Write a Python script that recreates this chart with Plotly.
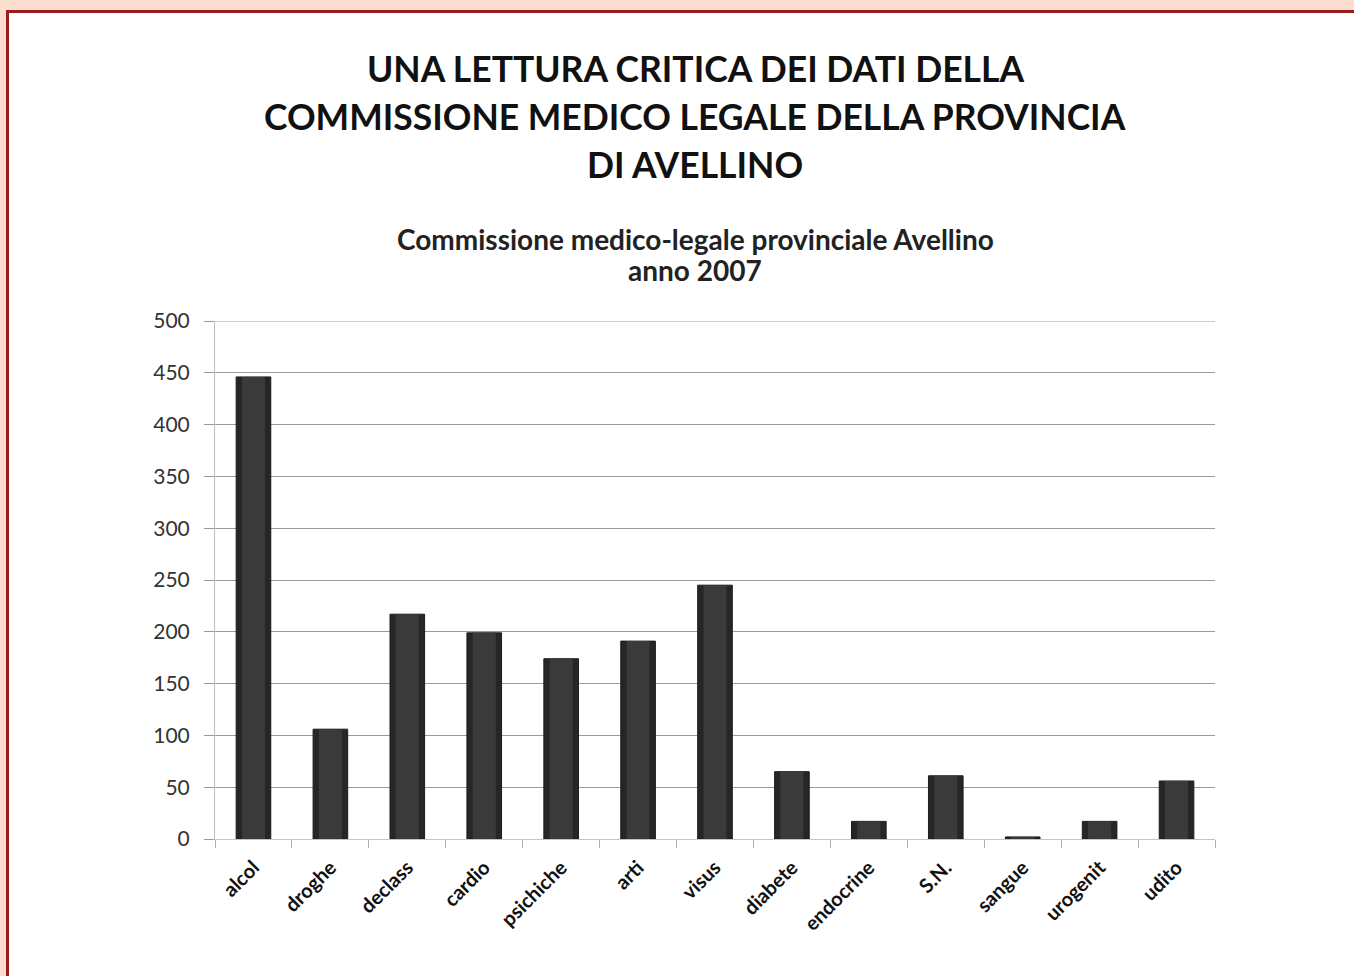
import plotly.graph_objects as go

# Commissione medico-legale provinciale Avellino, anno 2007
categorie = ["alcol", "droghe", "declass", "cardio", "psichiche", "arti", "visus",
             "diabete", "endocrine", "S.N.", "sangue", "urogenit", "udito"]
casi = [446, 106, 217, 199, 174, 191, 245, 65, 17, 61, 2, 17, 56]

y_ticks = [0, 50, 100, 150, 200, 250, 300, 350, 400, 450, 500]

titolo = ["UNA LETTURA CRITICA DEI DATI DELLA",
          "COMMISSIONE MEDICO LEGALE DELLA PROVINCIA",
          "DI AVELLINO"]
sottotitolo = ["Commissione medico-legale provinciale Avellino", "anno 2007"]

W, H = 1354, 976
L, R, T, B = 215, 139, 321, 137
PW, PH = W - L - R, H - T - B


def px(x):
    return (x - L) / PW


def py(y):
    return (H - B - y) / PH


FONT = "Lato"
GRID = "#9a9a9a"

fig = go.Figure()
# dark outer body of each column
fig.add_trace(go.Bar(
    x=categorie, y=casi, width=0.45,
    marker=dict(color="#262626", line=dict(color="#1c1c1c", width=1)),
    hoverinfo="x+y", showlegend=False,
))
# lighter inner face for a rounded look
fig.add_trace(go.Bar(
    x=categorie, y=casi, width=0.30,
    marker=dict(color="#3a3a3a", line=dict(width=0)),
    hoverinfo="skip", showlegend=False,
))

annotations = []
for i, line in enumerate(titolo):
    annotations.append(dict(
        text=f"<b>{line}</b>", xref="paper", yref="paper",
        x=px(695), y=py(68 + i * 48.5), xanchor="center", yanchor="middle",
        showarrow=False, font=dict(family=FONT, size=35.5, color="#111111"),
    ))
for i, line in enumerate(sottotitolo):
    annotations.append(dict(
        text=f"<b>{line}</b>", xref="paper", yref="paper",
        x=px(695), y=py(239 + i * 31), xanchor="center", yanchor="middle",
        showarrow=False, font=dict(family=FONT, size=28, color="#222222"),
    ))

shapes = [
    # pink page band along the top and the left
    dict(type="rect", xref="paper", yref="paper", x0=px(-5), x1=px(W + 5),
         y0=py(11), y1=py(-5), fillcolor="#FDDDD0", line=dict(width=0), layer="below"),
    dict(type="rect", xref="paper", yref="paper", x0=px(-5), x1=px(7),
         y0=py(H + 5), y1=py(-5), fillcolor="#FDDDD0", line=dict(width=0), layer="below"),
    # dark red frame lines
    dict(type="line", xref="paper", yref="paper", x0=px(7), x1=px(W + 5),
         y0=py(11.5), y1=py(11.5), line=dict(color="#9B1C1C", width=3), layer="below"),
    dict(type="line", xref="paper", yref="paper", x0=px(7.5), x1=px(7.5),
         y0=py(10), y1=py(H + 5), line=dict(color="#9B1C1C", width=3), layer="below"),
    # gridline along the top of the value range
    dict(type="line", xref="paper", yref="y", x0=0, x1=1, y0=y_ticks[-1], y1=y_ticks[-1],
         line=dict(color=GRID, width=1), layer="below"),
]

fig.update_layout(
    width=W, height=H,
    margin=dict(l=L, r=R, t=T, b=B),
    paper_bgcolor="white", plot_bgcolor="white",
    barmode="overlay", bargap=0.55,
    annotations=annotations, shapes=shapes,
    showlegend=False,
)
fig.update_xaxes(
    type="category", tickson="boundaries", ticks="outside", ticklen=8,
    tickcolor="#b0b0b0", tickwidth=1, showgrid=False,
    showline=True, linecolor="#c4c4c4", linewidth=1, tickangle=-45,
    tickfont=dict(family=FONT, size=20, color="#111111"),
    tickvals=categorie, ticktext=[f"<b>{c}</b>" for c in categorie],
    ticklabelstandoff=8,
)
fig.update_yaxes(
    range=[0, 500], tickvals=y_ticks, ticks="outside", ticklen=10,
    tickcolor=GRID, showgrid=True, gridcolor=GRID, gridwidth=1,
    showline=True, linecolor="#bdbdbd", linewidth=1, zeroline=False,
    tickfont=dict(family=FONT, size=21, color="#333333"),
    ticklabelstandoff=10,
)

fig.write_html("out.html")
